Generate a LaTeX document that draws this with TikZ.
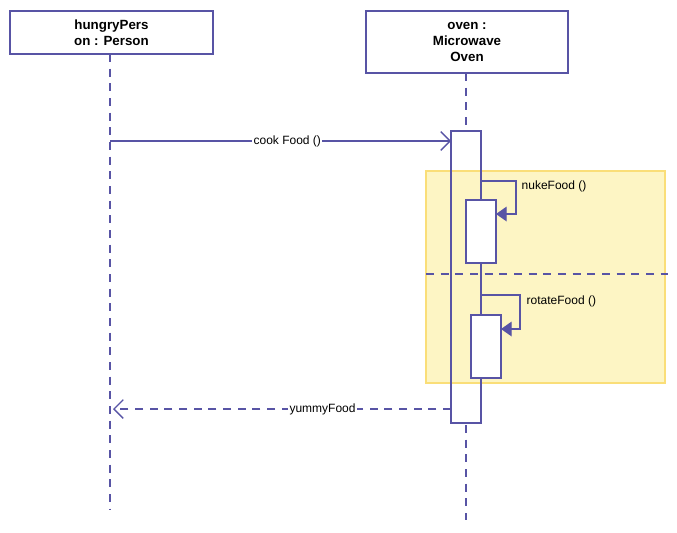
\documentclass[tikz,border=0pt]{standalone}
\usepackage{fontspec}
\setmainfont{Liberation Sans}
\usetikzlibrary{arrows.meta}
\definecolor{umlline}{RGB}{88,84,165}
\definecolor{fragfill}{RGB}{253,245,196}
\definecolor{fragdraw}{RGB}{250,222,120}
\tikzset{
  head/.style={draw=umlline, line width=1.5pt, fill=white, align=center, font=\bfseries\fontsize{10}{12}\selectfont},
  life/.style={umlline, line width=1pt, dash pattern=on 6pt off 5pt},
  act/.style={draw=umlline, line width=1.2pt},
  msg/.style={umlline, line width=1pt},
  lbl/.style={fill=white, text=black, inner sep=1pt, font=\fontsize{9}{11}\selectfont}
}
\begin{document}
\begin{tikzpicture}[x=0.75pt,y=-0.75pt]
  \useasboundingbox (0,0) rectangle (677,532);
  % heads and lifelines
  \draw[life] (110,54) -- (110,510);
  \draw[life] (466,73) -- (466,520);
  \node[head, minimum width=152pt, minimum height=32pt] (person) at (111.5,32.5) {hungryPers\\on : Person};
  \node[head, minimum width=151pt, minimum height=46pt] (oven) at (467,42) {oven :\\Microwave\\Oven};
  % main activation
  \fill[white] (451,131) rectangle (481,423);
  \draw[fragdraw, fill=fragfill, line width=1pt] (426,171) rectangle (665,383);
  \draw[act] (451,131) rectangle (481,423);
  \draw[life] (426,274) -- (668,274);
  % nested activations
  \draw[act, fill=white] (466,200) rectangle (496,263);
  \draw[act, fill=white] (471,315) rectangle (501,378);
  % messages
  \coordinate (c1) at (110,141);
  \coordinate (c2) at (451,141);
  \draw[msg, -{Straight Barb[length=7pt, width=14pt]}] (c1) -- (c2) node[lbl, pos=0.52] {cook Food ()};
  \draw[msg, -{Triangle[length=8pt, width=11pt]}] (481,181) -- (516,181) -- (516,214) -- (496,214);
  \node[anchor=west, font=\fontsize{9}{11}\selectfont] (nuke) at (517,186) {nukeFood ()};
  \draw[msg, -{Triangle[length=8pt, width=11pt]}] (481,295) -- (520,295) -- (520,329) -- (501,329);
  \node[anchor=west, font=\fontsize{9}{11}\selectfont] (rotate) at (522,301) {rotateFood ()};
  \coordinate (y1) at (451,409);
  \coordinate (y2) at (113,409);
  \draw[msg, dash pattern=on 6pt off 5pt, -{Straight Barb[length=7pt, width=14pt]}] (y1) -- (y2) node[lbl, pos=0.38] {yummyFood};
\end{tikzpicture}
\end{document}
